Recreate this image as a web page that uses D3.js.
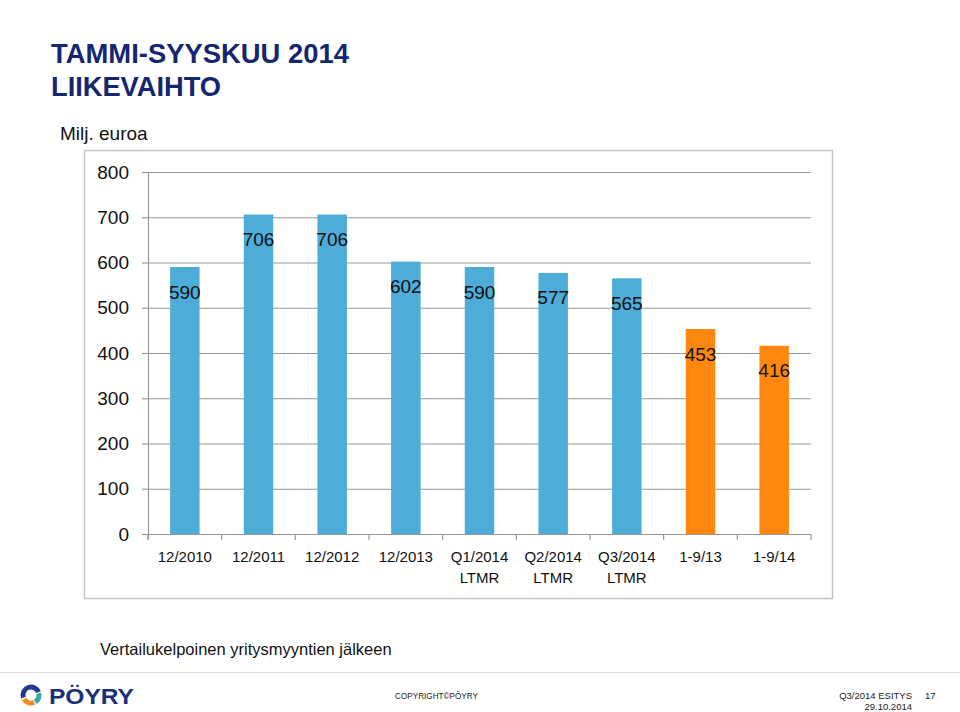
<!DOCTYPE html>
<html>
<head>
<meta charset="utf-8">
<script src="https://cdn.jsdelivr.net/npm/d3@7"></script>
<style>
  html, body { margin: 0; padding: 0; background: #fff; }
  svg { display: block; font-family: "Liberation Sans", Arial, Helvetica, sans-serif; }
</style>
</head>
<body>
<svg id="chart" width="960" height="712"></svg>
<script>
// ---- data ----
const categories = ["12/2010", "12/2011", "12/2012", "12/2013", "Q1/2014 LTMR", "Q2/2014 LTMR", "Q3/2014 LTMR", "1-9/13", "1-9/14"];
const categoryLines = [["12/2010"], ["12/2011"], ["12/2012"], ["12/2013"], ["Q1/2014", "LTMR"], ["Q2/2014", "LTMR"], ["Q3/2014", "LTMR"], ["1-9/13"], ["1-9/14"]];
const values = [590, 706, 706, 602, 590, 577, 565, 453, 416];
const groups = ["full", "full", "full", "full", "full", "full", "full", "ytd", "ytd"];
const yTicks = [0, 100, 200, 300, 400, 500, 600, 700, 800];

const titleLines = ["TAMMI-SYYSKUU 2014", "LIIKEVAIHTO"];
const titleWidths = [298, 170];
const unitLabel = "Milj. euroa";
const note = "Vertailukelpoinen yritysmyyntien jälkeen";

const svg = d3.select("#chart");

// ---- title ----
svg.append("g").selectAll("text").data(titleLines).join("text")
  .attr("x", 51).attr("y", (d, i) => 63 + i * 33)
  .attr("font-size", 27).attr("font-weight", "bold").attr("fill", "#13266f")
  .attr("textLength", (d, i) => titleWidths[i]).attr("lengthAdjust", "spacingAndGlyphs")
  .text(d => d);

svg.append("text").attr("x", 60).attr("y", 140)
  .attr("font-size", 19).attr("fill", "#111").text(unitLabel);

// ---- chart frame ----
svg.append("rect").attr("x", 84.5).attr("y", 150.5).attr("width", 748).attr("height", 448)
  .attr("fill", "none").attr("stroke", "#c4c4c4").attr("stroke-width", 1.5);

const x = d3.scaleBand().domain(categories).range([148, 811]).paddingInner(0.6).paddingOuter(0.3);
const y = d3.scaleLinear().domain([0, 800]).range([534, 172]);
const color = d3.scaleOrdinal().domain(["full", "ytd"]).range(["#4dacd8", "#ff870f"]);

// gridlines
svg.append("g").selectAll("line").data(yTicks.filter(t => t > 0)).join("line")
  .attr("x1", 148).attr("x2", 811)
  .attr("y1", d => y(d) + 0.5).attr("y2", d => y(d) + 0.5)
  .attr("stroke", "#989898").attr("stroke-width", 1.2);

// y axis
const yAxis = svg.append("g").attr("transform", "translate(148,0)")
  .call(d3.axisLeft(y).tickValues(yTicks).tickSize(6).tickPadding(13));
yAxis.select(".domain").remove();
yAxis.selectAll(".tick line").attr("stroke", "#989898").attr("stroke-width", 1.2);
yAxis.selectAll(".tick text").attr("font-size", 19).attr("fill", "#111")
  .attr("font-family", "Liberation Sans, Arial, sans-serif");
svg.append("line").attr("x1", 148.5).attr("x2", 148.5).attr("y1", 172).attr("y2", 540)
  .attr("stroke", "#989898").attr("stroke-width", 1.2);

// bars
svg.append("g").selectAll("rect").data(values).join("rect")
  .attr("x", (d, i) => x(categories[i]))
  .attr("y", d => y(d))
  .attr("width", x.bandwidth())
  .attr("height", d => y(0) - y(d))
  .attr("fill", (d, i) => color(groups[i]));

// x axis
svg.append("line").attr("x1", 148).attr("x2", 811).attr("y1", 534.5).attr("y2", 534.5)
  .attr("stroke", "#989898").attr("stroke-width", 1.2);
const gap = (x.step() - x.bandwidth()) / 2;
const bounds = categories.map(c => x(c) - gap).concat([x(categories[categories.length - 1]) + x.bandwidth() + gap]);
svg.append("g").selectAll("line").data(bounds).join("line")
  .attr("x1", d => d).attr("x2", d => d).attr("y1", 534).attr("y2", 540)
  .attr("stroke", "#989898").attr("stroke-width", 1.2);

const xAxis = svg.append("g").attr("transform", "translate(0,534)")
  .call(d3.axisBottom(x).tickSize(0).tickFormat(""));
xAxis.select(".domain").remove();
xAxis.selectAll(".tick").each(function (d, i) {
  const t = d3.select(this).append("text").attr("fill", "#111").attr("font-size", 15)
    .attr("text-anchor", "middle").attr("font-family", "Liberation Sans, Arial, sans-serif");
  categoryLines[i].forEach((line, j) => {
    t.append("tspan").attr("x", 0).attr("y", 28 + j * 20.5).text(line);
  });
});

// data labels
svg.append("g").selectAll("text").data(values).join("text")
  .attr("x", (d, i) => x(categories[i]) + x.bandwidth() / 2)
  .attr("y", d => y(d) + 31.5)
  .attr("text-anchor", "middle").attr("font-size", 19).attr("fill", "#111")
  .text(d => d);

// note
svg.append("text").attr("x", 100).attr("y", 655).attr("font-size", 16.5).attr("fill", "#111").text(note);

// footer
svg.append("line").attr("x1", 0).attr("x2", 960).attr("y1", 672.5).attr("y2", 672.5)
  .attr("stroke", "#dedede").attr("stroke-width", 1);

const logo = svg.append("g").attr("transform", "translate(31,695)");
const arc = d3.arc().innerRadius(5.5).outerRadius(10.5);
logo.append("path").attr("d", arc({ startAngle: -1.9, endAngle: 1.2 })).attr("fill", "#1f3a8a");
logo.append("path").attr("d", arc({ startAngle: 1.35, endAngle: 2.6 })).attr("fill", "#3aa7a0");
logo.append("path").attr("d", arc({ startAngle: 2.75, endAngle: 4.2 })).attr("fill", "#f08a1e");
svg.append("text").attr("x", 49).attr("y", 704).attr("font-size", 22).attr("font-weight", "bold")
  .attr("fill", "#1a2f7a").attr("textLength", 85).attr("lengthAdjust", "spacingAndGlyphs").text("PÖYRY");

svg.append("text").attr("x", 395).attr("y", 699).attr("font-size", 9.5).attr("fill", "#222")
  .attr("textLength", 83).attr("lengthAdjust", "spacingAndGlyphs").text("COPYRIGHT©PÖYRY");
svg.append("text").attr("x", 912).attr("y", 699).attr("font-size", 9.5).attr("fill", "#222")
  .attr("text-anchor", "end").text("Q3/2014  ESITYS");
svg.append("text").attr("x", 925).attr("y", 699).attr("font-size", 9.5).attr("fill", "#222").text("17");
svg.append("text").attr("x", 912).attr("y", 710).attr("font-size", 9.5).attr("fill", "#222")
  .attr("text-anchor", "end").text("29.10.2014");
</script>
</body>
</html>
